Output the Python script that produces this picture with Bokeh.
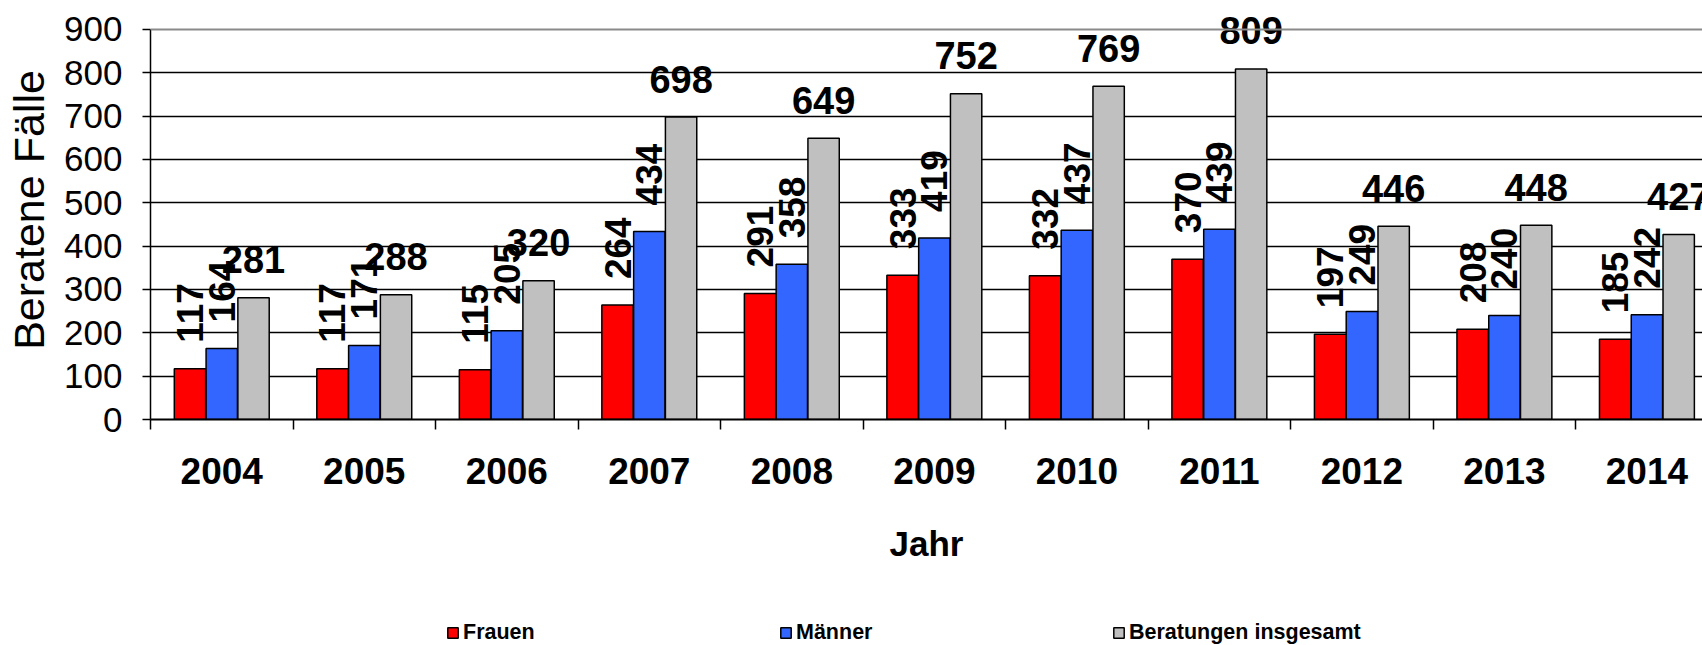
from bokeh.plotting import figure
from bokeh.layouts import column
from bokeh.models import (ColumnDataSource, Range1d, FixedTicker, Span, Legend,
                          LegendItem)
from bokeh.core.properties import value
from bokeh.embed import file_html
from bokeh.resources import INLINE
import math

years = ["2004", "2005", "2006", "2007", "2008", "2009", "2010", "2011", "2012", "2013", "2014"]
frauen = [117, 117, 115, 264, 291, 333, 332, 370, 197, 208, 185]
maenner = [164, 171, 205, 434, 358, 419, 437, 439, 249, 240, 242]
gesamt = [281, 288, 320, 698, 649, 752, 769, 809, 446, 448, 427]
series_names = ["Frauen", "Männer", "Beratungen insgesamt"]
y_ticks = [0, 100, 200, 300, 400, 500, 600, 700, 800, 900]

REG = "'Liberation Sans', Arial, sans-serif"

n = len(years)
centers = [i + 0.5 for i in range(n)]
bw = 0.22
offs = [-0.223, 0.0, 0.223]
colors = ["#FF0000", "#3366FF", "#C0C0C0"]

W = 1702
p = figure(width=W, height=570, output_backend="svg", toolbar_location=None,
           x_range=Range1d(0, 10.89), y_range=Range1d(0, 966.9),
           min_border_left=150, min_border_right=0, min_border_top=0,
           min_border_bottom=151)
p.outline_line_color = None
p.background_fill_color = "white"

# grid
p.xgrid.grid_line_color = None
p.ygrid.ticker = FixedTicker(ticks=y_ticks[1:-1])
p.ygrid.grid_line_color = "black"
p.ygrid.grid_line_width = 1.5
p.add_layout(Span(location=900, dimension="width", line_color="#8a8a8a", line_width=2))

for k, vals in enumerate([frauen, maenner, gesamt]):
    src = ColumnDataSource(dict(x=[c + offs[k] for c in centers], top=vals,
                                lab=[str(v) for v in vals]))
    p.vbar(x="x", top="top", width=bw, bottom=0, source=src,
           fill_color=colors[k], line_color="black", line_width=1.5)
    if k < 2:
        p.text(x="x", y="top", text="lab", source=src, angle=math.pi / 2,
               text_align="left", text_baseline="middle", y_offset=-26, x_offset=0,
               text_font=value(REG), text_font_style="bold",
               text_font_size="37px", text_color="black")
    else:
        p.text(x="x", y="top", text="lab", source=src,
               text_align="center", text_baseline="middle", y_offset=-38,
               text_font=value(REG), text_font_style="bold",
               text_font_size="38px", text_color="black")

# y axis
ya = p.yaxis[0]
ya.ticker = FixedTicker(ticks=y_ticks)
ya.bounds = (0, 900)
ya.axis_line_color = "black"
ya.axis_line_width = 1.5
ya.major_tick_out = 8
ya.major_tick_in = 0
ya.major_tick_line_width = 1.5
ya.minor_tick_line_color = None
ya.major_label_standoff = 20
ya.major_label_text_font = REG
ya.major_label_text_font_size = "35px"
ya.major_label_text_color = "black"
ya.axis_label = "Beratene Fälle"
ya.axis_label_text_font = REG
ya.axis_label_text_font_style = "normal"
ya.axis_label_text_font_size = "43px"
ya.axis_label_standoff = 8
ya.axis_label_text_color = "black"

# x axis
xa = p.xaxis[0]
xa.ticker = FixedTicker(ticks=centers, minor_ticks=list(range(n + 1)))
xa.major_label_overrides = {c: y for c, y in zip(centers, years)}
xa.axis_line_color = "black"
xa.axis_line_width = 2
xa.major_tick_line_color = None
xa.major_tick_out = 0
xa.major_tick_in = 0
xa.minor_tick_line_color = "black"
xa.minor_tick_line_width = 1.5
xa.minor_tick_out = 10
xa.minor_tick_in = 0
xa.major_label_standoff = 28
xa.major_label_text_font = REG
xa.major_label_text_font_style = "bold"
xa.major_label_text_font_size = "37px"
xa.major_label_text_color = "black"
xa.axis_label = "Jahr"
xa.axis_label_text_font = REG
xa.axis_label_text_font_style = "bold"
xa.axis_label_text_font_size = "35px"
xa.axis_label_standoff = 37
xa.axis_label_text_color = "black"

# legend strip
p2 = figure(width=W, height=75, output_backend="svg", toolbar_location=None,
            x_range=Range1d(0, 1), y_range=Range1d(0, 1),
            min_border=0, min_border_left=150, min_border_right=0,
            min_border_top=0, min_border_bottom=0)
p2.axis.visible = False
p2.grid.visible = False
p2.outline_line_color = None
leg_r = []
for k in range(3):
    # hidden placeholder renderer that only supplies the legend swatch style
    r = p2.vbar(x=[0.5], top=[0.5], bottom=0.4, width=0.01, fill_color=colors[k],
                line_color="black", line_width=1.5)
    r.visible = False
    leg_r.append(r)
legend = Legend(items=[LegendItem(label=series_names[k], renderers=[leg_r[k]]) for k in range(3)],
                orientation="horizontal", location=(296, 0),
                label_text_font=REG, label_text_font_style="bold",
                label_text_font_size="21.5px", label_text_color="black",
                glyph_width=13, glyph_height=13, label_standoff=4,
                label_width=316, spacing=0, padding=0, margin=0,
                border_line_color=None, background_fill_alpha=0)
p2.add_layout(legend, "center")

open("out.html", "w").write(file_html(column(p, p2, spacing=0), INLINE))
